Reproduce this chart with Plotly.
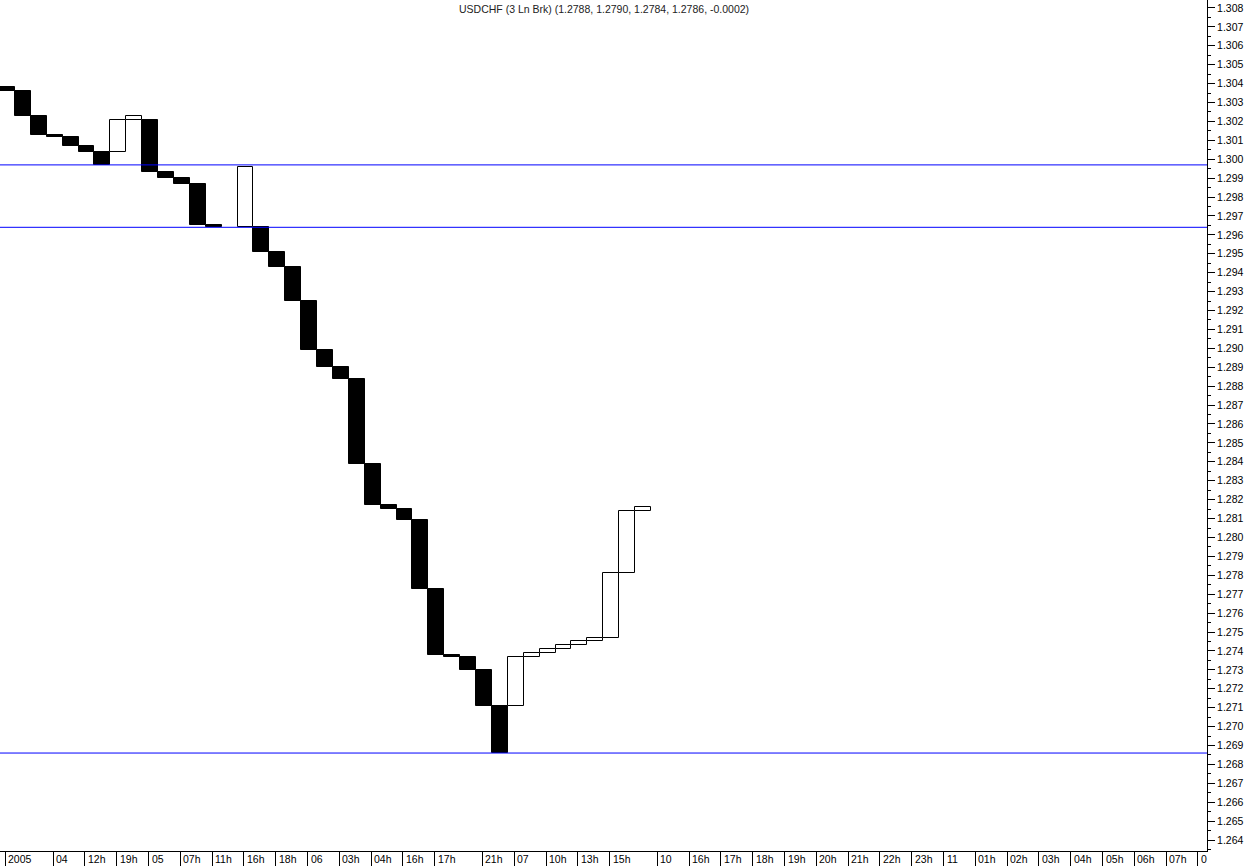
import plotly.graph_objects as go

# Three-line-break bricks (brick index, open, close)
brick_index = [0, 1, 2, 3, 4, 5, 6, 7, 8, 9, 10, 11, 12, 13,
               15, 16, 17, 18, 19, 20, 21, 22, 23, 24, 25, 26, 27, 28, 29, 30, 31,
               32, 33, 34, 35, 36, 37, 38, 39, 40]
brick_open = [1.3038, 1.3036, 1.3023, 1.3013, 1.3012, 1.3007, 1.3004, 1.3004, 1.3021, 1.3021, 1.2993, 1.2990, 1.2987, 1.2965,
              1.2964, 1.2964, 1.2951, 1.2943, 1.2925, 1.2899, 1.2890, 1.2884, 1.2839, 1.2817, 1.2815, 1.2809, 1.2773, 1.2738, 1.2737, 1.2730, 1.2711,
              1.2711, 1.2737, 1.2739, 1.2741, 1.2743, 1.2745, 1.2747, 1.2781, 1.2814]
brick_close = [1.3036, 1.3023, 1.3013, 1.3012, 1.3007, 1.3004, 1.2997, 1.3021, 1.3023, 1.2993, 1.2990, 1.2987, 1.2965, 1.2964,
               1.2996, 1.2951, 1.2943, 1.2925, 1.2899, 1.2890, 1.2884, 1.2839, 1.2817, 1.2815, 1.2809, 1.2773, 1.2738, 1.2737, 1.2730, 1.2711, 1.2686,
               1.2737, 1.2739, 1.2741, 1.2743, 1.2745, 1.2747, 1.2781, 1.2814, 1.2816]

# Horizontal reference levels
levels = [1.2997, 1.2964, 1.2686]

# Time labels on the x axis (brick index where each label sits)
tick_index = [0, 3, 5, 7, 9, 11, 13, 15, 17, 19, 21, 23, 25, 27,
              30, 32, 34, 36, 38,
              41, 43, 45, 47, 49, 51, 53, 55, 57, 59, 61, 63, 65, 67, 69, 71, 73, 75]
tick_text = ["2005", "04", "12h", "19h", "05", "07h", "11h", "16h", "18h", "06", "03h", "04h", "16h", "17h",
             "21h", "07", "10h", "13h", "15h",
             "10", "16h", "17h", "18h", "19h", "20h", "21h", "22h", "23h", "11", "01h", "02h", "03h", "04h",
             "05h", "06h", "07h", "0"]

title_text = "USDCHF (3 Ln Brk) (1.2788, 1.2790, 1.2784, 1.2786, -0.0002)"

FONT = "Arial, Liberation Sans, sans-serif"

up_x, up_base, up_h = [], [], []
dn_x, dn_base, dn_h = [], [], []
for k, o, c in zip(brick_index, brick_open, brick_close):
    lo, hi = min(o, c), max(o, c)
    if c > o:
        up_x.append(k); up_base.append(lo); up_h.append(hi - lo)
    else:
        dn_x.append(k); dn_base.append(lo); dn_h.append(hi - lo)

fig = go.Figure()
fig.add_trace(go.Bar(x=dn_x, y=dn_h, base=dn_base, width=1.0,
                     marker=dict(color="black", line=dict(color="black", width=1)),
                     showlegend=False, hoverinfo="skip"))
fig.add_trace(go.Bar(x=up_x, y=up_h, base=up_base, width=1.0,
                     marker=dict(color="white", line=dict(color="black", width=1)),
                     showlegend=False, hoverinfo="skip"))

for lv in levels:
    fig.add_shape(type="line", xref="paper", x0=0, x1=1, yref="y", y0=lv, y1=lv,
                  line=dict(color="#0000FF", width=1), layer="above")

tick_pos = [t - 0.1 for t in tick_index]
for p, t in zip(tick_pos, tick_text):
    fig.add_annotation(x=p, y=0, xref="x", yref="paper", text=t, showarrow=False,
                       xanchor="left", yanchor="top", xshift=1, yshift=0,
                       font=dict(family=FONT, size=10.5, color="black"))

fig.add_annotation(x=0.5, y=1, xref="paper", yref="paper", text=title_text, showarrow=False,
                   xanchor="center", yanchor="top", yshift=-1,
                   font=dict(family=FONT, size=10.5, color="#222222"))

fig.update_layout(
    width=1250, height=866,
    margin=dict(l=0, r=43, t=0, b=15),
    paper_bgcolor="white", plot_bgcolor="white",
    bargap=0,
    xaxis=dict(range=[-0.443, 75.47], showgrid=False, zeroline=False,
               showline=True, linecolor="black", linewidth=1,
               tickmode="array", tickvals=tick_pos, ticktext=[""] * len(tick_pos),
               ticks="outside", ticklen=15, tickcolor="black", tickwidth=1,
               showticklabels=False),
    yaxis=dict(range=[1.26342, 1.30842], side="right", showgrid=False, zeroline=False,
               showline=True, linecolor="black", linewidth=1,
               tickmode="linear", tick0=1.264, dtick=0.001, tickformat=".3f",
               ticks="outside", ticklen=7, tickcolor="black", tickwidth=1,
               automargin=False,
               minor=dict(dtick=0.0005, tick0=1.264, ticks="outside", ticklen=3,
                          tickcolor="black", showgrid=False),
               tickfont=dict(family=FONT, size=10.5, color="black")),
)

fig.write_html("out.html", config={"displayModeBar": False},
               post_script="document.body.style.margin='0px';document.body.style.overflow='hidden';")
